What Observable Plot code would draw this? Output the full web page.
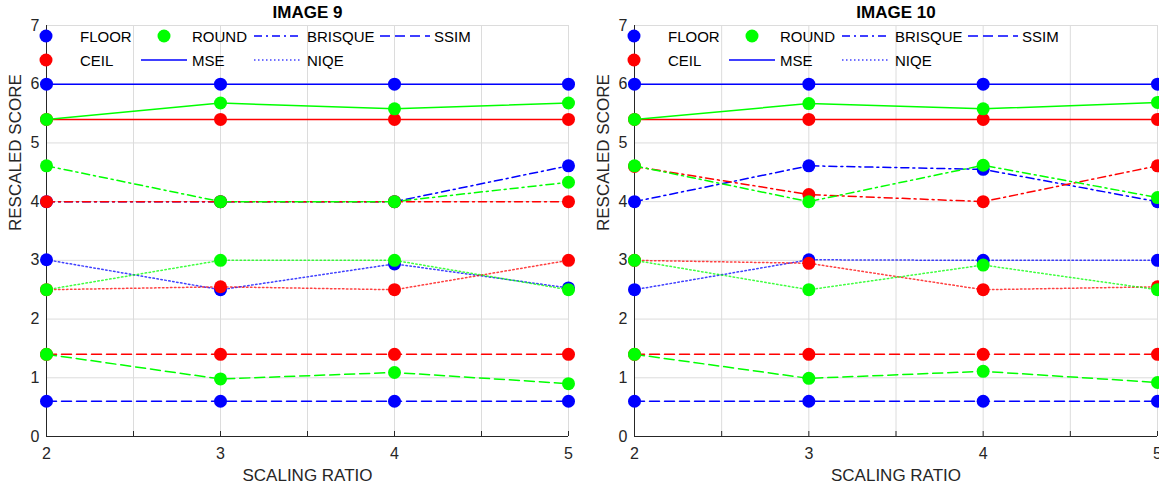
<!DOCTYPE html>
<html><head><meta charset="utf-8">
<script src="https://cdn.jsdelivr.net/npm/d3@7"></script>
<script src="https://cdn.jsdelivr.net/npm/@observablehq/plot@0.6"></script>
<style>
body{margin:0;background:#fff;font-family:"Liberation Sans",Arial,sans-serif;}
#wrap{display:flex;width:1159px;height:491px;overflow:hidden;}
.panel{position:relative;flex:none;}
.panel svg{display:block;overflow:visible;}
.lg{position:absolute;font-size:15px;color:#000;line-height:1;white-space:nowrap;transform:translateY(-50%);}
.mk{position:absolute;transform:translateY(-50%);}
</style>
</head><body>
<div id="wrap"></div>
<script>
// ---- data ----
const ratios = [2, 3, 4, 5];
const methods = ["FLOOR", "CEIL", "ROUND"];
const metrics = ["MSE", "BRISQUE", "NIQE", "SSIM"];
const methodColors = ["#0000ff", "#ff0000", "#00ff00"];
const yTicks = [0, 1, 2, 3, 4, 5, 6, 7];
const xGrid = [2, 2.5, 3, 3.5, 4, 4.5, 5];
const titles = ["IMAGE 9", "IMAGE 10"];

// IMAGE 9  (rows: FLOOR, CEIL, ROUND)
const img9_MSE     = [[6, 6, 6, 6], [5.4, 5.4, 5.4, 5.4], [5.4, 5.68, 5.58, 5.68]];
const img9_BRISQUE = [[4, 4, 4, 4.61], [4, 4, 4, 4], [4.61, 4, 4, 4.33]];
const img9_NIQE    = [[3.01, 2.5, 2.94, 2.53], [2.5, 2.55, 2.5, 3.0], [2.5, 3.0, 3.0, 2.5]];
const img9_SSIM    = [[0.6, 0.6, 0.6, 0.6], [1.4, 1.4, 1.4, 1.4], [1.4, 0.98, 1.09, 0.9]];

// IMAGE 10
const img10_MSE     = [[6, 6, 6, 6], [5.4, 5.4, 5.4, 5.4], [5.4, 5.67, 5.58, 5.69]];
const img10_BRISQUE = [[4, 4.61, 4.55, 4.0], [4.6, 4.12, 4, 4.61], [4.61, 4, 4.62, 4.07]];
const img10_NIQE    = [[2.5, 3.01, 3.0, 3.0], [3.0, 2.95, 2.5, 2.55], [3.0, 2.5, 2.92, 2.5]];
const img10_SSIM    = [[0.6, 0.6, 0.6, 0.6], [1.4, 1.4, 1.4, 1.4], [1.4, 0.99, 1.11, 0.92]];

const legendLabels = ["FLOOR", "CEIL", "ROUND", "MSE", "BRISQUE", "NIQE", "SSIM"];

// ---- style ----
const dashes = {MSE: null, BRISQUE: "8,4,2,4", NIQE: "1.5,2.5", SSIM: "10,5"};
const FONT = "Liberation Sans, Arial, sans-serif";

function buildRows(sets) {
  const rows = [];
  metrics.forEach((metric, mi) => {
    methods.forEach((method, ki) => {
      sets[mi][ki].forEach((v, i) => rows.push({x: ratios[i], y: v, metric, method}));
    });
  });
  return rows;
}

const colorOf = m => methodColors[methods.indexOf(m)];

function panel(idx, sets, width, ml, mr) {
  const rows = buildRows(sets);
  const seriesMarks = [];
  for (const method of methods) {
    for (const metric of metrics) {
      const d = rows.filter(r => r.method === method && r.metric === metric);
      seriesMarks.push(Plot.line(d, {x: "x", y: "y", stroke: colorOf(method), strokeWidth: 1.5,
        strokeDasharray: dashes[metric] || undefined, strokeOpacity: metric === "NIQE" ? 0.75 : 1}));
      seriesMarks.push(Plot.dot(d, {x: "x", y: "y", r: 6.5, fill: colorOf(method), stroke: "none"}));
    }
  }
  const svg = Plot.plot({
    width, height: 491, marginTop: 25, marginBottom: 55, marginLeft: ml, marginRight: mr,
    x: {domain: [d3.min(ratios), d3.max(ratios)]},
    y: {domain: [d3.min(yTicks), d3.max(yTicks)]},
    style: {fontFamily: FONT, fontSize: "16px", color: "#262626", background: "transparent", overflow: "visible"},
    marks: [
      Plot.gridY(yTicks, {stroke: "#dcdcdc", strokeOpacity: 1}),
      Plot.gridX(xGrid, {stroke: "#dcdcdc", strokeOpacity: 1}),
      Plot.axisX(xGrid, {tickSize: 5, dy: -5, tickFormat: () => "", label: null, stroke: "#262626"}),
      Plot.axisX(ratios, {tickSize: 0, tickPadding: 11, label: null, fontSize: 16, tickFormat: "d"}),
      Plot.axisY(yTicks, {tickSize: 0, tickPadding: 7, label: null, fontSize: 16, tickFormat: "d"}),
      Plot.ruleX([d3.min(ratios)], {stroke: "#262626"}),
      Plot.ruleY([d3.min(yTicks)], {stroke: "#262626"}),
      ...seriesMarks,
      Plot.text([titles[idx]], {frameAnchor: "top", lineAnchor: "middle", dy: -13, fontWeight: "bold", fontSize: 17, fill: "#000"}),
      Plot.text(["RESCALED SCORE"], {frameAnchor: "left", rotate: -90, dx: -31, fontSize: 17, fill: "#262626"}),
      Plot.text(["SCALING RATIO"], {frameAnchor: "bottom", lineAnchor: "middle", dy: 39, fontSize: 17, fill: "#262626"})
    ]
  });
  const div = document.createElement("div");
  div.className = "panel";
  div.style.width = width + "px";
  div.appendChild(svg);
  // legend (column-major, 4 columns x 2 rows)
  const colText = [34, 146, 261, 388];
  const colLine = [[null, null], [95, 141], [208, 254], [334, 384]];
  const colDot = [0, 118];
  const rowY = [36, 60];
  legendLabels.forEach((lab, i) => {
    const col = Math.floor(i / 2), row = i % 2;
    const y = rowY[row];
    let mk;
    if (i < 3) {
      const cx = ml + colDot[col];
      mk = `<svg class="mk" style="left:${cx - 7}px;top:${y}px" width="14" height="14"><circle cx="7" cy="7" r="6.5" fill="${methodColors[i]}"/></svg>`;
    } else {
      const [a, b] = colLine[col];
      const metric = lab;
      mk = `<svg class="mk" style="left:${ml + a}px;top:${y}px" width="${b - a}" height="4"><line x1="0" x2="${b - a}" y1="2" y2="2" stroke="#0000ff" stroke-width="1.5" ${dashes[metric] ? `stroke-dasharray="${dashes[metric]}"` : ""} ${metric === "NIQE" ? 'stroke-opacity="0.75"' : ""}/></svg>`;
    }
    div.insertAdjacentHTML("beforeend", mk + `<div class="lg" style="left:${ml + colText[col]}px;top:${y}px">${lab}</div>`);
  });
  return div;
}

const wrap = document.getElementById("wrap");
wrap.appendChild(panel(0, [img9_MSE, img9_BRISQUE, img9_NIQE, img9_SSIM], 580, 46, 12));
wrap.appendChild(panel(1, [img10_MSE, img10_BRISQUE, img10_NIQE, img10_SSIM], 579, 54, 2));
</script>
</body></html>
